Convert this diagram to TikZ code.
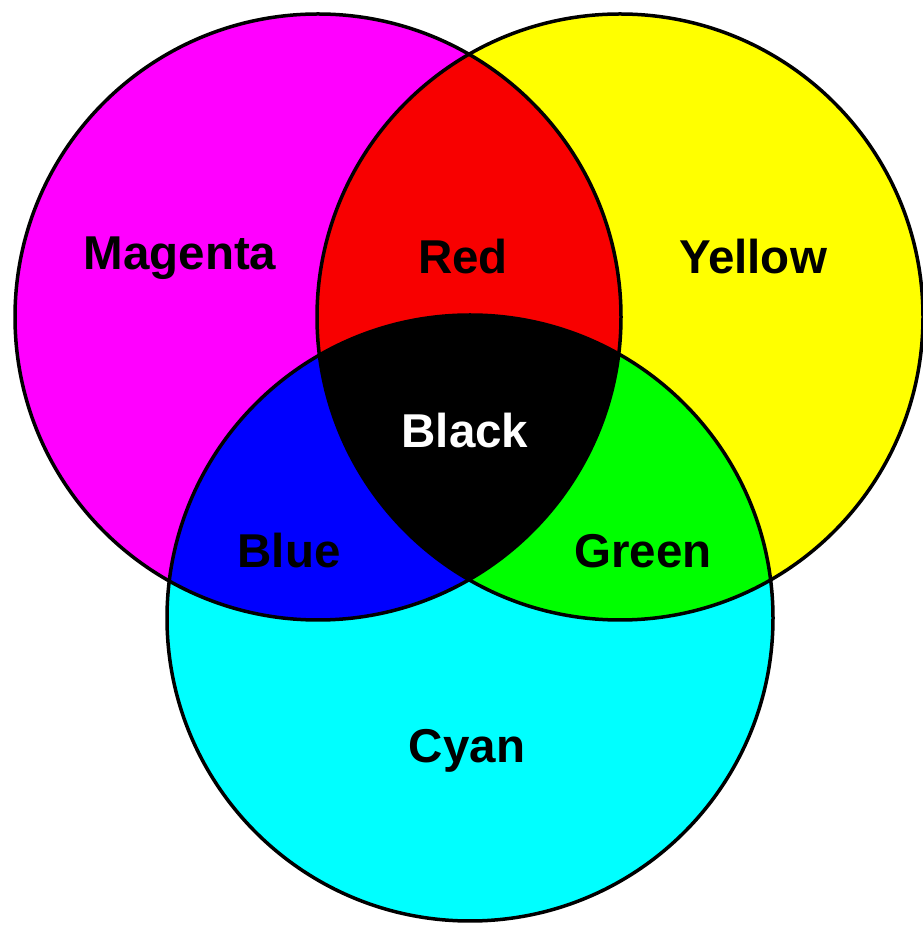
\documentclass[tikz,border=0pt]{standalone}
\usepackage{fontspec}
\setmainfont{Liberation Sans}
\usetikzlibrary{positioning}

\definecolor{cMag}{RGB}{255,0,255}
\definecolor{cYel}{RGB}{255,255,0}
\definecolor{cCya}{RGB}{0,255,255}
\definecolor{cRed}{RGB}{248,0,0}
\definecolor{cGre}{RGB}{0,255,0}
\definecolor{cBlu}{RGB}{0,0,255}

\begin{document}
\begin{tikzpicture}[
  x=1pt, y=1pt,
  rim/.style={line width=3.5pt, draw=black},
  tag/.style={font=\fontsize{47.5}{52}\selectfont\bfseries, text=black, inner sep=0pt}
]
\useasboundingbox (0,0) rectangle (922,927);
\def\rad{303pt}

% Circle centres
\coordinate (mag) at (318,610);
\coordinate (yel) at (620,610);
\coordinate (cya) at (470,309);

% Primary discs
\fill[cMag] (mag) circle (\rad);
\fill[cYel] (yel) circle (\rad);
\fill[cCya] (cya) circle (\rad);

% Overlaps
\begin{scope}
  \clip (mag) circle (\rad);
  \fill[cRed] (yel) circle (\rad);
  \fill[cBlu] (cya) circle (\rad);
\end{scope}
\begin{scope}
  \clip (yel) circle (\rad);
  \fill[cGre] (cya) circle (\rad);
\end{scope}
\begin{scope}
  \clip (mag) circle (\rad);
  \clip (yel) circle (\rad);
  \fill[black] (cya) circle (\rad);
\end{scope}

% Outlines
\foreach \c in {mag,yel,cya}
  \draw[rim] (\c) circle (\rad);

% Labels
\node[tag] (magenta) at (180,669) {Magenta};
\node[tag] (red) at (463,670) {Red};
\node[tag] (yellow) at (753,670) {Yellow};
\node[tag, text=white] (black) at (465,496) {Black};
\node[tag] (blue) at (289,376) {Blue};
\node[tag] (green) at (643,376) {Green};
\node[tag] (cyan) at (467,176) {Cyan};

\end{tikzpicture}
\end{document}
